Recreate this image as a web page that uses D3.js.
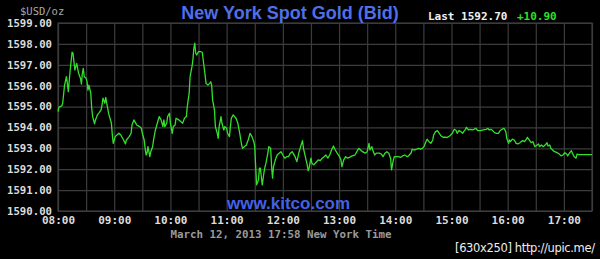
<!DOCTYPE html>
<html>
<head>
<meta charset="utf-8">
<script src="https://cdn.jsdelivr.net/npm/d3@7"></script>
<style>
  body { margin: 0; background: #000; }
  svg { display: block; }
  .mono { font-family: "DejaVu Sans Mono", monospace; }
</style>
</head>
<body>
<svg id="chart" width="600" height="259"></svg>
<script>
// minutes after 08:00 New York time, and the bid at that minute
const minutes = [
  0, 1, 4, 5, 7, 9, 10, 11, 13, 15,
  16, 17, 18, 20, 21, 22, 24, 25, 26, 27,
  28, 30, 31, 32, 33, 35, 36, 37, 39, 40,
  42, 44, 46, 47, 48, 50, 51, 52, 54, 55,
  57, 58, 59, 61, 63, 65, 67, 70, 72, 73,
  76, 78, 79, 81, 82, 84, 87, 89, 90, 92,
  93, 94, 95, 96, 98, 99, 101, 102, 104, 106,
  108, 110, 112, 113, 114, 116, 117, 119, 120, 122,
  123, 125, 126, 129, 131, 133, 135, 137, 138, 140,
  141, 143, 144, 145, 146, 147, 148, 150, 152, 154,
  155, 157, 158, 160, 162, 163, 164, 165, 167, 168,
  170, 171, 172, 174, 175, 177, 178, 180, 181, 183,
  184, 185, 187, 190, 192, 194, 196, 197, 199, 201,
  203, 205, 207, 209, 210, 211, 212, 214, 215, 216,
  217, 218, 220, 221, 222, 224, 225, 227, 228, 229,
  230, 232, 234, 236, 238, 240, 242, 244, 246, 248,
  250, 253, 255, 257, 259, 261, 262, 264, 266, 267,
  268, 270, 271, 273, 276, 278, 280, 282, 284, 286,
  288, 290, 292, 294, 296, 298, 300, 302, 303, 305,
  307, 309, 311, 314, 317, 319, 321, 323, 325, 328,
  330, 332, 333, 335, 336, 338, 340, 343, 345, 347,
  349, 351, 353, 355, 356, 358, 359, 361, 363, 366,
  368, 370, 373, 375, 377, 378, 380, 383, 385, 387,
  389, 391, 392, 394, 396, 398, 400, 401, 403, 405,
  407, 409, 411, 414, 415, 418, 421, 423, 425, 426,
  428, 430, 432, 433, 435, 436, 438, 440, 442, 444,
  446, 448, 451, 454, 457, 459, 460, 462, 464, 466,
  468, 470, 472, 474, 476, 478, 479, 481, 482, 483,
  485, 487, 489, 491, 493, 496, 498, 500, 501, 503,
  505, 507, 509, 510, 513, 514, 516, 518, 521, 522,
  523, 525, 526, 528, 530, 533, 535, 537, 539, 541,
  543, 544, 546, 548, 549, 551, 553, 554, 556, 570
]
const bids = [
  1594.76, 1594.97, 1595.03, 1595.16, 1596.03, 1596.43, 1596.11, 1595.71, 1596.75, 1597.60,
  1597.55, 1597.15, 1596.75, 1597.07, 1596.83, 1596.59, 1596.35, 1596.08, 1596.59, 1596.83,
  1596.43, 1596.35, 1596.19, 1595.79, 1596.03, 1595.64, 1594.92, 1594.52, 1594.17, 1594.36,
  1594.60, 1594.71, 1594.84, 1595.08, 1595.40, 1595.16, 1595.44, 1595.16, 1594.68, 1594.52,
  1594.20, 1593.64, 1593.24, 1593.56, 1593.64, 1593.72, 1593.64, 1593.40, 1593.21, 1593.40,
  1593.56, 1593.72, 1594.12, 1594.36, 1594.28, 1594.12, 1594.04, 1593.96, 1593.72, 1593.40,
  1593.00, 1592.68, 1592.77, 1593.08, 1592.60, 1592.84, 1593.08, 1593.40, 1593.88, 1594.20,
  1594.52, 1594.36, 1594.04, 1594.36, 1594.04, 1594.20, 1594.52, 1594.68, 1594.20, 1593.72,
  1594.04, 1594.12, 1594.44, 1594.36, 1594.28, 1594.20, 1594.44, 1594.52, 1595.00, 1595.64,
  1596.43, 1596.91, 1597.23, 1597.79, 1598.03, 1597.55, 1597.47, 1597.63, 1597.63, 1597.60,
  1597.23, 1596.51, 1596.11, 1596.03, 1596.11, 1596.19, 1596.03, 1595.32, 1594.84, 1594.04,
  1593.72, 1593.48, 1594.04, 1594.52, 1594.20, 1593.88, 1594.04, 1593.96, 1593.72, 1593.56,
  1594.04, 1594.44, 1594.60, 1594.44, 1594.20, 1593.72, 1593.16, 1593.00, 1593.08, 1593.16,
  1593.40, 1593.72, 1593.56, 1593.32, 1593.08, 1592.12, 1591.25, 1591.49, 1592.05, 1592.05,
  1591.65, 1591.25, 1591.89, 1592.12, 1592.29, 1592.77, 1593.08, 1593.00, 1592.12, 1591.57,
  1592.12, 1592.45, 1592.68, 1592.77, 1592.84, 1592.68, 1592.53, 1592.60, 1592.60, 1592.77,
  1592.84, 1592.60, 1592.36, 1592.77, 1593.08, 1593.37, 1593.00, 1592.60, 1592.21, 1591.93,
  1592.05, 1592.53, 1592.29, 1592.21, 1592.36, 1592.45, 1592.41, 1592.53, 1592.60, 1592.68,
  1592.53, 1592.68, 1592.92, 1593.11, 1592.92, 1592.77, 1592.64, 1592.45, 1592.12, 1592.45,
  1592.60, 1592.53, 1592.57, 1592.64, 1592.68, 1592.84, 1593.00, 1592.92, 1592.84, 1592.77,
  1592.84, 1593.24, 1592.92, 1593.08, 1592.92, 1592.68, 1592.77, 1592.77, 1592.73, 1592.60,
  1592.77, 1592.84, 1592.77, 1592.53, 1591.97, 1592.45, 1592.60, 1592.60, 1592.60, 1592.57,
  1592.64, 1592.68, 1592.60, 1592.68, 1592.79, 1592.96, 1592.92, 1592.96, 1593.00, 1592.96,
  1593.00, 1593.11, 1593.24, 1593.44, 1593.32, 1593.24, 1593.40, 1593.64, 1593.80, 1593.85,
  1593.72, 1593.59, 1593.53, 1593.53, 1593.51, 1593.59, 1593.72, 1593.91, 1593.85, 1593.72,
  1593.85, 1593.80, 1593.72, 1593.80, 1593.91, 1594.01, 1593.88, 1593.91, 1593.88, 1593.91,
  1593.96, 1593.85, 1593.85, 1593.88, 1593.91, 1593.96, 1593.88, 1593.91, 1593.85, 1593.75,
  1593.72, 1593.72, 1593.85, 1593.91, 1593.96, 1593.80, 1593.48, 1593.24, 1593.40, 1593.32,
  1593.44, 1593.40, 1593.24, 1593.21, 1593.27, 1593.37, 1593.32, 1593.44, 1593.53, 1593.40,
  1593.27, 1593.32, 1593.08, 1593.11, 1593.21, 1593.08, 1593.16, 1593.08, 1593.21, 1593.27,
  1593.11, 1593.16, 1593.00, 1592.92, 1592.84, 1592.79, 1592.73, 1592.64, 1592.68, 1592.79,
  1592.73, 1592.64, 1592.77, 1592.89, 1592.77, 1592.60, 1592.53, 1592.72, 1592.70, 1592.70
]

const dayStart = '2013-03-12 08:00'
const dayEnd = '2013-03-12 17:30'
const priceRange = [1590, 1599]
const lastBid = 'Last 1592.70'
const change = '+10.90'
const title = 'New York Spot Gold (Bid)'
const unitLabel = '$USD/oz'
const stamp = 'March 12, 2013 17:58 New York Time'

const style = {
  pdg: { l: 58, t: 23, r: 8, b: 48 },
  gridColor: '#3c3c3c',
  lineColor: '#33e02c',
  labelColor: '#dcdcdc'
}

const svg = d3.select('#chart')
const W = +svg.attr('width'), H = +svg.attr('height')
const boardW = W - style.pdg.l - style.pdg.r
const boardH = H - style.pdg.t - style.pdg.b

const parse = d3.timeParse('%Y-%m-%d %H:%M')
const t0 = parse(dayStart)
const data = minutes.map((m, i) => ({ t: d3.timeMinute.offset(t0, m), bid: bids[i] }))

const x = d3.scaleTime().domain([t0, parse(dayEnd)]).range([0, boardW])
const y = d3.scaleLinear().domain(priceRange).range([boardH, 0])

svg.append('rect').attr('width', W).attr('height', H).attr('fill', '#000')

const board = svg.append('g')
  .attr('transform', 'translate(' + [style.pdg.l, style.pdg.t] + ')')

// grid
const xGrid = d3.axisBottom(x)
  .ticks(d3.timeMinute.every(30))
  .tickSize(-boardH)
  .tickFormat('')
board.append('g')
  .attr('transform', 'translate(0,' + boardH + ')')
  .call(xGrid)
  .call(g => g.select('.domain').remove())
  .selectAll('line').attr('stroke', style.gridColor).attr('stroke-width', 1.2)

const yGrid = d3.axisLeft(y)
  .ticks(9)
  .tickSize(-boardW)
  .tickFormat('')
board.append('g')
  .call(yGrid)
  .call(g => g.select('.domain').remove())
  .selectAll('line').attr('stroke', style.gridColor).attr('stroke-width', 1.2)

board.append('rect')
  .attr('width', boardW)
  .attr('height', boardH)
  .attr('fill', 'none')
  .attr('stroke', style.gridColor)
  .attr('stroke-width', 1.2)

// watermark
board.append('text')
  .text('www.kitco.com')
  .attr('x', 169)
  .attr('y', boardH - 2)
  .attr('font-family', 'Liberation Sans, Arial, sans-serif')
  .attr('font-weight', 'bold')
  .attr('font-size', 17)
  .attr('fill', '#4262e6')

// axes labels
const xAxis = d3.axisBottom(x)
  .ticks(d3.timeHour.every(1))
  .tickSize(0)
  .tickPadding(5)
  .tickFormat(d3.timeFormat('%H:%M'))
board.append('g')
  .attr('transform', 'translate(0,' + boardH + ')')
  .call(xAxis)
  .call(g => g.select('.domain').remove())
  .selectAll('text')
  .attr('class', 'mono')
  .attr('font-size', 11)
  .attr('font-weight', 'bold')
  .attr('fill', style.labelColor)

const yAxis = d3.axisLeft(y)
  .ticks(9)
  .tickSize(0)
  .tickPadding(6)
  .tickFormat(d3.format('.2f'))
board.append('g')
  .call(yAxis)
  .call(g => g.select('.domain').remove())
  .selectAll('text')
  .attr('class', 'mono')
  .attr('font-size', 10.7)
  .attr('font-weight', 'bold')
  .attr('fill', style.labelColor)

// price line
const line = d3.line()
  .x(d => x(d.t))
  .y(d => y(d.bid))

board.append('path')
  .datum(data)
  .attr('d', line)
  .attr('fill', 'none')
  .attr('stroke', style.lineColor)
  .attr('stroke-width', 1.3)
  .attr('stroke-linejoin', 'round')

// header texts
svg.append('text')
  .text(unitLabel)
  .attr('class', 'mono')
  .attr('x', 20)
  .attr('y', 15)
  .attr('font-size', 10.5)
  .attr('fill', '#a8a8a8')

svg.append('text')
  .text(title)
  .attr('x', 290)
  .attr('y', 19)
  .attr('text-anchor', 'middle')
  .attr('font-family', 'Liberation Sans, Arial, sans-serif')
  .attr('font-weight', 'bold')
  .attr('font-size', 18)
  .attr('fill', '#4f6fe8')

svg.append('text')
  .text(lastBid)
  .attr('class', 'mono')
  .attr('x', 428)
  .attr('y', 20)
  .attr('font-size', 11)
  .attr('font-weight', 'bold')
  .attr('fill', '#f0f0f0')

svg.append('text')
  .text(change)
  .attr('class', 'mono')
  .attr('x', 517)
  .attr('y', 20)
  .attr('font-size', 11)
  .attr('font-weight', 'bold')
  .attr('fill', '#2ee02a')

svg.append('text')
  .text(stamp)
  .attr('class', 'mono')
  .attr('x', 281)
  .attr('y', 238)
  .attr('text-anchor', 'middle')
  .attr('font-size', 10.8)
  .attr('font-weight', 'bold')
  .attr('fill', '#9a9a9a')

svg.append('text')
  .text('[630x250] http://upic.me/')
  .attr('x', 455)
  .attr('y', 252)
  .attr('textLength', 140)
  .attr('font-family', 'DejaVu Sans, sans-serif')
  .attr('font-size', 11.5)
  .attr('fill', '#eeeeee')
</script>
</body>
</html>
